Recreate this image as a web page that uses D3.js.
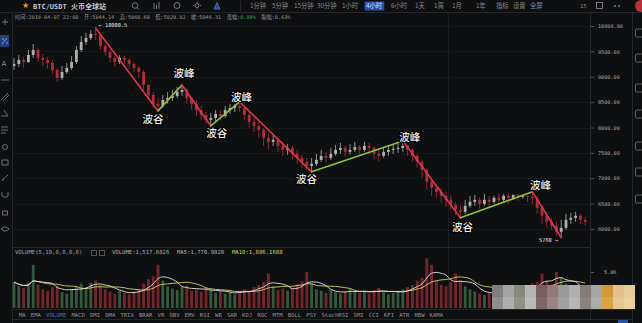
<!DOCTYPE html>
<html><head><meta charset="utf-8">
<script src="https://cdn.jsdelivr.net/npm/d3@7"></script>
<style>
html,body{margin:0;padding:0;background:#0e0f11;overflow:hidden;}
svg{display:block;}
</style></head><body>
<svg id="c" width="642" height="323"></svg>
<script>
// ---------------- DATA ----------------
const firstOpen = 9213;
const close = [9252,9331,9291,9429,9528,9370,9331,9272,9134,8976,
9094,9173,9291,9528,9685,9764,9843,9823,9606,9488,
9370,9291,9370,9331,9252,9173,9094,8839,8642,8465,
8425,8543,8583,8622,8701,8740,8583,8465,8346,8248,
8150,8189,8268,8228,8346,8386,8425,8386,8248,8110,
8031,7953,7795,7717,7756,7638,7559,7598,7480,7402,
7323,7244,7283,7362,7441,7402,7480,7559,7598,7520,
7559,7618,7559,7638,7598,7480,7441,7520,7559,7579,
7598,7638,7559,7441,7323,7165,6929,6811,6732,6654,
6575,6476,6378,6339,6457,6535,6575,6496,6575,6535,
6614,6575,6654,6614,6673,6654,6654,6634,6614,6417,
6260,6142,6063,5945,6024,6181,6220,6260,6181,6142];
const high = [9370,9429,9390,9528,9646,9567,9449,9390,9331,9173,
9213,9272,9409,9606,9803,9862,9921,9961,9862,9646,
9528,9409,9429,9409,9370,9291,9213,9134,8858,8701,
8583,8642,8701,8740,8799,8839,8780,8602,8543,8425,
8307,8287,8346,8346,8425,8465,8465,8504,8425,8307,
8189,8110,7992,7874,7874,7795,7717,7677,7638,7559,
7461,7402,7402,7480,7559,7520,7598,7657,7697,7638,
7677,7717,7657,7717,7697,7638,7559,7598,7638,7657,
7677,7736,7657,7598,7480,7362,7205,6969,6870,6811,
6732,6654,6535,6476,6575,6654,6673,6634,6693,6654,
6654,6693,6693,6693,6673,6693,6673,6654,6732,6654,
6476,6339,6220,6142,6181,6299,6319,6339,6299,6240];
const low = [9134,9193,9173,9272,9370,9291,9213,9154,9055,8898,
8937,9055,9134,9252,9488,9626,9724,9724,9528,9409,
9272,9193,9252,9252,9154,9094,8976,8740,8543,8386,
8327,8386,8465,8524,8583,8622,8465,8346,8228,8150,
8071,8031,8130,8150,8189,8268,8307,8307,8150,7992,
7913,7795,7638,7559,7638,7520,7441,7461,7362,7283,
7205,7165,7126,7244,7323,7303,7362,7441,7480,7421,
7461,7520,7441,7520,7461,7362,7323,7402,7441,7480,
7500,7520,7441,7323,7205,7008,6772,6654,6614,6516,
6437,6378,6280,6220,6299,6417,6457,6398,6457,6437,
6496,6476,6535,6496,6575,6555,6595,6535,6496,6299,
6102,6024,5984,5866,5827,5984,6102,6142,6102,6063];
const volume = [3600,3000,2800,3400,6000,3200,2600,2400,2900,3100,
2200,2000,2600,3000,3400,2800,3500,3800,3200,2600,
2300,2000,2400,2100,1900,2300,2600,3400,4000,4400,
6000,3800,3000,2700,2500,2900,3100,2400,2600,2200,
2800,2500,2100,2300,2000,2200,1900,2400,2600,2300,
2900,3200,3600,4800,3000,2500,2700,2400,2800,3300,
3700,5000,3400,2600,2400,2100,2500,2200,2000,2300,
2600,2400,2100,2300,2000,2500,2800,2200,1900,2100,
2400,2600,2900,3200,3800,4200,6900,6000,3800,3200,
3000,3600,4800,3900,3000,2600,2300,2000,1800,2200,
2000,1900,2100,2400,2200,2000,2600,3000,3400,3600,
4800,3800,3300,5000,4200,3400,3000,2600,2400,2200];
const priceTicks = [10000,9500,9000,8500,8000,7500,7000,6500,6000];
const volumeTicks = [5000];
const pivotIndex = [17,30,35,41,47,62,81,93,108,114];
const pivotKind = ["high","low","high","low","high","low","high","low","high","low"];
const pivotText = ["← 10000.5","波谷","波峰","波谷","波峰","波谷","波峰","波谷","波峰","5760 →"];
const pairTitle = "BTC/USDT";
const exchangeName = "火币全球站";
const timeframes = ["1分钟","5分钟","15分钟","30分钟","1小时","4小时","6小时","1天","1周","1月","1年","指标","设置","全屏"];
const activeTimeframe = "4小时";
const infoLabels = ["时间","开","高","低","收","涨幅","振幅"];
const infoValues = ["2019-04-07 22:00","5044.14","5060.68","5029.02","5046.31","0.09%","0.63%"];
const volTitle = "VOLUME(5,10,0,0,0,0)";
const volLabels = ["VOLUME","MA5","MA10"];
const volValues = ["1,517.6826","1,770.9820","1,886.1688"];
const indicatorTabs = ["MA","EMA","VOLUME","MACD","DMI","DMA","TRIX","BRAR","VR","OBV","EMV","RSI","WR","SAR","KDJ","ROC","MTM","BOLL","PSY","StochRSI","SMI","CCI","KFI","ATR","RBW","KAMA"];
const activeTab = "VOLUME";

// ---------------- LAYOUT / STYLE ----------------
const W = 642, H = 323;
const MONO = "'DejaVu Sans Mono', monospace";
const CJK = "'Noto Sans CJK SC', 'Noto Sans', sans-serif";
const MIX = "'DejaVu Sans Mono', 'Noto Sans CJK SC', monospace";
const sepColor = "#25262a";
const cUp = "#aeb2ae", cDown = "#ad3038";
const lineRed = "#e0344c", lineGreen = "#8fc23e";

const svg = d3.select("#c");
svg.append("rect").attr("width", W).attr("height", H).attr("fill", "#0e0f11");

const idx = d3.range(close.length);
const open = idx.map(i => i === 0 ? firstOpen : close[i - 1]);
const isUp = i => close[i] >= open[i];

const xc = d3.scaleLinear().domain([0, close.length - 1]).range([14, 585.2]);
const y = d3.scaleLinear().domain([6000, 10000]).range([229, 26]);
const yv = d3.scaleLinear().domain([0, 5000]).range([308, 272]);
const bw = 2.8;

// grid
const grid = svg.append("g");
grid.selectAll("line.h").data(priceTicks).join("line")
  .attr("x1", 13).attr("x2", 590).attr("y1", d => Math.round(y(d)) + 0.5).attr("y2", d => Math.round(y(d)) + 0.5)
  .attr("stroke", "#16171a");
grid.append("line").attr("x1", 448.5).attr("x2", 448.5).attr("y1", 13).attr("y2", 309).attr("stroke", "#1b1c1f");

// separators
function hline(yy, x0, x1, c) { svg.append("line").attr("x1", x0).attr("x2", x1).attr("y1", yy).attr("y2", yy).attr("stroke", c || sepColor); }
function vline(xx, y0, y1, c) { svg.append("line").attr("x1", xx).attr("x2", xx).attr("y1", y0).attr("y2", y1).attr("stroke", c || sepColor); }
hline(12.5, 0, 642); vline(12.5, 12.5, 323); vline(590.5, 12.5, 319); vline(632.5, 12.5, 323);
hline(247.5, 13, 590); hline(309.5, 13, 632); hline(319.5, 13, 632);

// clip
svg.append("clipPath").attr("id", "mainClip").append("rect").attr("x", 13).attr("y", 13).attr("width", 577).attr("height", 234);
const chart = svg.append("g").attr("clip-path", "url(#mainClip)");

// candles
chart.selectAll("line.wick").data(idx).join("line").attr("class", "wick")
  .attr("x1", i => xc(i)).attr("x2", i => xc(i))
  .attr("y1", i => y(high[i])).attr("y2", i => y(low[i]))
  .attr("stroke", i => isUp(i) ? cUp : cDown).attr("stroke-width", 0.8);
chart.selectAll("rect.body").data(idx).join("rect").attr("class", "body")
  .attr("x", i => xc(i) - bw / 2).attr("width", bw)
  .attr("y", i => y(Math.max(open[i], close[i])))
  .attr("height", i => Math.max(1, Math.abs(y(open[i]) - y(close[i]))))
  .attr("fill", i => isUp(i) ? cUp : cDown);

// zigzag
const pts = pivotIndex.map((i, k) => ({ i, k, x: xc(i), y: y(pivotKind[k] === "high" ? high[i] : low[i]) }));
const segs = d3.pairs(pts);
chart.selectAll("line.zz").data(segs).join("line")
  .attr("x1", d => d[0].x).attr("y1", d => d[0].y).attr("x2", d => d[1].x).attr("y2", d => d[1].y)
  .attr("stroke", d => d[1].y > d[0].y ? lineRed : lineGreen).attr("stroke-width", 1.6).attr("stroke-linecap", "round");

// labels
const labelOffset = [[3, -3], [-5, 8], [2, -12], [6, 7], [2, -5], [-5, 7], [7, -4], [2, 9], [8, -7], [-3, 2.5]];
pts.forEach((p, k) => {
  const t = pivotText[k];
  const small = (k === 0 || k === pts.length - 1);
  const [dx, dy] = labelOffset[k];
  const tx = svg.append("text").attr("x", p.x + dx).attr("y", p.y + dy).text(t);
  if (small) {
    tx.attr("font-family", MONO).attr("font-size", 5.3).attr("fill", "#e6e6e6")
      .attr("text-anchor", k === 0 ? "start" : "end").attr("dominant-baseline", "central");
  } else {
    tx.attr("font-family", CJK).attr("font-size", 10.5).attr("font-weight", 500).attr("fill", "#f0f0f0")
      .attr("text-anchor", "middle").attr("dominant-baseline", "central")
      .attr("stroke", "#000").attr("stroke-width", 2).attr("paint-order", "stroke");
  }
});

// price axis
const yAxis = svg.append("g").attr("transform", "translate(591,0)")
  .call(d3.axisRight(y).tickValues(priceTicks).tickFormat(d3.format(".2f")).tickSize(3).tickPadding(4));
yAxis.select(".domain").remove();
yAxis.selectAll("line").attr("stroke", "#555");
yAxis.selectAll("text").attr("font-family", MONO).attr("font-size", 5.2).attr("fill", "#a8a8a8");

// volume bars
svg.selectAll("rect.vol").data(idx).join("rect").attr("class", "vol")
  .attr("x", i => xc(i) - bw / 2).attr("width", bw)
  .attr("y", i => yv(volume[i])).attr("height", i => 308 - yv(volume[i]))
  .attr("fill", i => isUp(i) ? "#3a6241" : "#82292e").attr("opacity", 0.9);
function ma(n) { return idx.map(i => d3.mean(volume.slice(Math.max(0, i - n + 1), i + 1))); }
const ma5 = ma(5), ma10 = ma(10);
const vline2 = d3.line().x((d, i) => xc(i)).y(d => yv(d)).curve(d3.curveMonotoneX);
svg.append("path").attr("d", vline2(ma10)).attr("fill", "none").attr("stroke", "#cfd36a").attr("stroke-width", 0.9);
svg.append("path").attr("d", vline2(ma5)).attr("fill", "none").attr("stroke", "#e0e0e0").attr("stroke-width", 0.9);

const vAxis = svg.append("g").attr("transform", "translate(591,0)")
  .call(d3.axisRight(yv).tickValues(volumeTicks).tickFormat(d => (d / 1000).toFixed(1) + "K").tickSize(3).tickPadding(10));
vAxis.select(".domain").remove();
vAxis.selectAll("line").attr("stroke", "#555");
vAxis.selectAll("text").attr("font-family", MONO).attr("font-size", 5.2).attr("fill", "#a8a8a8");

// mosaic watermark
const mosaic = [
  ["#7f7f7f","#a4a4a4","#868a7a","#b4b4b4","#765e5e","#957878","#9a9a9a","#b0b0b0","#857b74","#a6a6a6","#d49836","#e2c28a","#e8cc98"],
  ["#8e8e8e","#aeaeae","#8f9383","#bababa","#7c6666","#9e8383","#a1a1a1","#b6b6b6","#8d837d","#acacac","#daa446","#e5c792","#ebd1a0"]
];
mosaic.forEach((row, r) => row.forEach((c, j) => {
  svg.append("rect").attr("x", 492 + j * 11).attr("y", 285 + r * 12).attr("width", 11).attr("height", 12).attr("fill", c);
}));

// volume header
svg.append("text").attr("x", 15).attr("y", 254).attr("font-family", MONO).attr("font-size", 5.6).attr("fill", "#a0a0a0").text(volTitle);
svg.append("rect").attr("x", 91.5).attr("y", 250.5).attr("width", 5).attr("height", 5).attr("fill", "none").attr("stroke", "#555");
svg.append("rect").attr("x", 99.5).attr("y", 250.5).attr("width", 5).attr("height", 5).attr("fill", "none").attr("stroke", "#555");
const volX = [112, 177, 232];
const volColors = ["#b0b0b0", "#b0b0b0", "#d8d65e"];
volLabels.forEach((l, k) => svg.append("text").attr("x", volX[k]).attr("y", 254).attr("font-family", MONO).attr("font-size", 5.6)
  .attr("fill", volColors[k]).text(l + ":" + volValues[k]));

// indicator tabs
let tx0 = 19;
indicatorTabs.forEach(t => {
  const el = svg.append("text").attr("x", tx0).attr("y", 316.5).attr("font-family", MONO).attr("font-size", 5.6)
    .attr("fill", t === activeTab ? "#3f73d8" : "#959595").text(t);
  tx0 += el.node().getComputedTextLength() + 5.1;
});

// top bar
svg.append("text").attr("x", 22).attr("y", 8).attr("font-size", 8).attr("fill", "#e89a2a").attr("font-family", "'DejaVu Sans', sans-serif").text("★");
svg.append("text").attr("x", 33).attr("y", 8.5).attr("font-family", MIX).attr("font-size", 7).attr("font-weight", "bold").attr("fill", "#c8c8c8")
  .text(pairTitle + " " + exchangeName);
const topIcons = svg.append("g").attr("stroke", "#858585").attr("fill", "none").attr("stroke-width", 0.9);
topIcons.append("circle").attr("cx", 135).attr("cy", 5.5).attr("r", 2.8);
topIcons.append("line").attr("x1", 137).attr("y1", 7.5).attr("x2", 139).attr("y2", 9.5);
topIcons.append("path").attr("d", "M154,9 L154,3 M156.5,9 L156.5,5 M159,9 L159,2");
topIcons.append("circle").attr("cx", 177).attr("cy", 5.5).attr("r", 3);
topIcons.append("circle").attr("cx", 197).attr("cy", 5.5).attr("r", 2);
topIcons.append("path").attr("d", "M197,1.5 L197,2.5 M197,8.5 L197,9.5 M193,5.5 L194,5.5 M200,5.5 L201,5.5");
topIcons.append("path").attr("d", "M214,9 L217,2.5 L220,9 Z").attr("stroke", "#4c6fc8").attr("fill", "#2b4a96");
vline(240.5, 1, 11);
const tfX = [250, 272, 294, 317, 342, 366, 391, 415, 434, 452, 476, 496, 513, 530];
timeframes.forEach((t, k) => {
  const isA = t === activeTimeframe;
  const el = svg.append("text").attr("x", tfX[k]).attr("y", 8.3).attr("font-family", CJK).attr("font-size", 6.3)
    .attr("fill", isA ? "#dfe6ff" : "#8a8a8a").text(t);
  if (isA) {
    const bb = el.node().getBBox();
    svg.insert("rect", "text").attr("x", bb.x - 1.5).attr("y", 1.5).attr("width", bb.width + 3).attr("height", 9).attr("fill", "#2d4fa8").attr("rx", 1);
  }
});
const rIcons = svg.append("g").attr("stroke", "#858585").attr("fill", "none").attr("stroke-width", 0.9);
rIcons.append("text").attr("x", 580).attr("y", 8).attr("font-family", MONO).attr("font-size", 5.5).attr("fill", "#8a8a8a").attr("stroke", "none").text("15");
rIcons.append("rect").attr("x", 596.5).attr("y", 2.5).attr("width", 6).attr("height", 6);
rIcons.append("circle").attr("cx", 615).attr("cy", 6).attr("r", 0.6).attr("fill", "#aaa");
rIcons.append("circle").attr("cx", 619).attr("cy", 6).attr("r", 0.6).attr("fill", "#aaa");
svg.append("circle").attr("cx", 641).attr("cy", 6).attr("r", 6).attr("fill", "#b8303a");

// info row (laid out sequentially)
let ix = 15;
infoLabels.forEach((l, k) => {
  const t = svg.append("text").attr("x", ix).attr("y", 18.5).attr("font-family", MIX).attr("font-size", 5.2).attr("fill", "#9a9a9a");
  t.append("tspan").text(l + ":");
  t.append("tspan").attr("fill", l === "涨幅" ? "#3fae4a" : "#9a9a9a").text(infoValues[k]);
  ix += t.node().getComputedTextLength() + 5.5;
});

// left toolbar
const lt = svg.append("g").attr("stroke", "#858585").attr("fill", "none").attr("stroke-width", 0.8);
svg.insert("rect", "g").attr("x", 0).attr("y", 35).attr("width", 9).attr("height", 12).attr("fill", "#23407e");
lt.append("path").attr("d", "M2,22 L8,22 M5,19 L5,25");
lt.append("path").attr("d", "M2,44 L7,38 M3,38 L3,40 M7,44 L7,42").attr("stroke", "#9fb8f0");
svg.append("text").attr("x", 1.5).attr("y", 66).attr("font-family", "'DejaVu Sans', sans-serif").attr("font-size", 7).attr("fill", "#949494").text("A");
lt.append("path").attr("d", "M1,80 L9,80");
lt.append("path").attr("d", "M1,100 L8,93 M3,101 L9,95");
lt.append("path").attr("d", "M1,116 L8,116 L4,110");
lt.append("path").attr("d", "M1,127 L8,127 M1,130 L8,130 M1,133 L6,133");
lt.append("circle").attr("cx", 5).attr("cy", 147).attr("r", 2.5);
lt.append("rect").attr("x", 2).attr("y", 160).attr("width", 6).attr("height", 5);
lt.append("path").attr("d", "M2,180 L8,175 M2,180 L4,180");
lt.append("path").attr("d", "M2,192 L2,196 Q5,199 8,196 L8,192");
lt.append("rect").attr("x", 2.5).attr("y", 211).attr("width", 5).attr("height", 4);
lt.append("path").attr("d", "M1,229 Q5,225 9,229 Q5,233 1,229");
const rt = svg.append("g").attr("stroke", "#777").attr("fill", "none").attr("stroke-width", 0.8);
[33, 58, 88, 114, 146, 172, 199].forEach(yy => rt.append("rect").attr("x", 635.5).attr("y", yy - 4).attr("width", 7).attr("height", 8).attr("rx", 1));
svg.append("rect").attr("x", 618).attr("y", 320).attr("width", 10).attr("height", 4).attr("fill", "#2d4fa8");
</script>
</body></html>
